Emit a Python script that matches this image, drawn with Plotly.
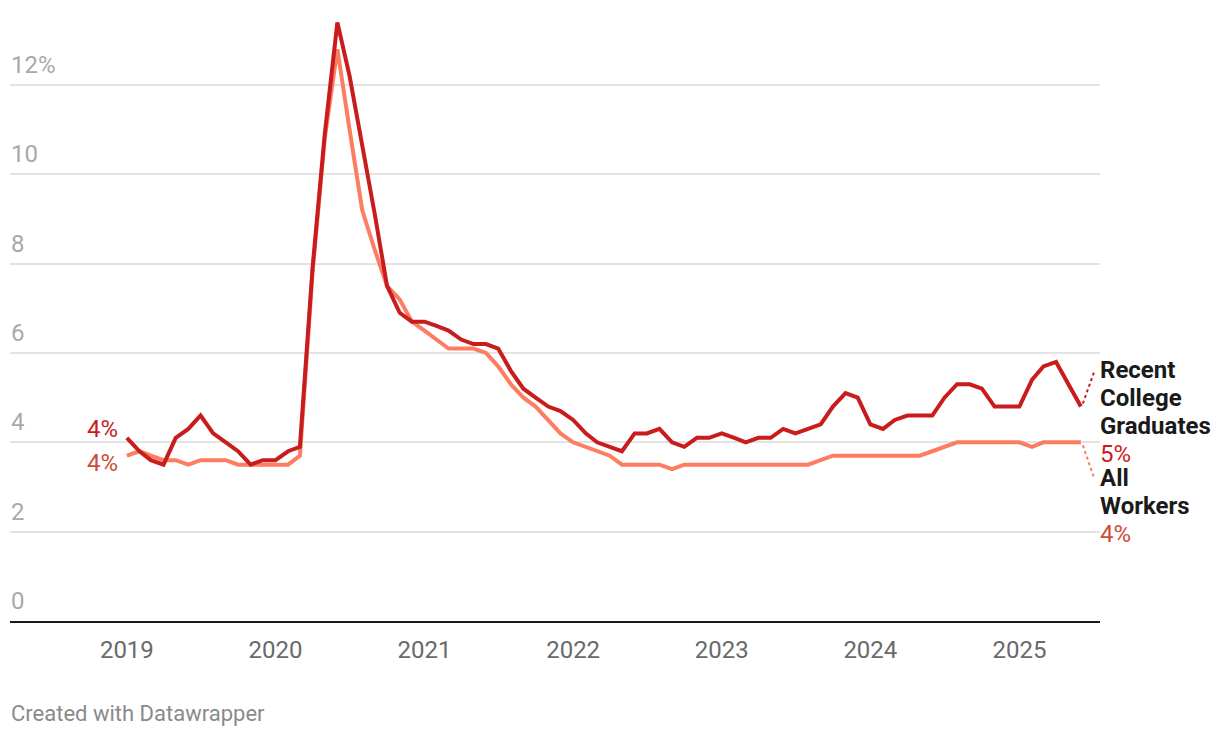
import plotly.graph_objects as go
import pandas as pd

# ---- data (monthly, Jan 2019 - Jun 2025) ----
months = pd.date_range("2019-01-01", "2025-06-01", freq="MS")

recent_grads = [
    4.1, 3.8, 3.6, 3.5, 4.1, 4.3, 4.6, 4.2, 4.0, 3.8, 3.5, 3.6,   # 2019
    3.6, 3.8, 3.9, 7.9, 10.9, 13.4, 12.2, 10.7, 9.1, 7.5, 6.9, 6.7,  # 2020
    6.7, 6.6, 6.5, 6.3, 6.2, 6.2, 6.1, 5.6, 5.2, 5.0, 4.8, 4.7,   # 2021
    4.5, 4.2, 4.0, 3.9, 3.8, 4.2, 4.2, 4.3, 4.0, 3.9, 4.1, 4.1,   # 2022
    4.2, 4.1, 4.0, 4.1, 4.1, 4.3, 4.2, 4.3, 4.4, 4.8, 5.1, 5.0,   # 2023
    4.4, 4.3, 4.5, 4.6, 4.6, 4.6, 5.0, 5.3, 5.3, 5.2, 4.8, 4.8,   # 2024
    4.8, 5.4, 5.7, 5.8, 5.3, 4.8,                                 # 2025
]
all_workers = [
    3.7, 3.8, 3.7, 3.6, 3.6, 3.5, 3.6, 3.6, 3.6, 3.5, 3.5, 3.5,   # 2019
    3.5, 3.5, 3.7, 7.8, 10.8, 12.8, 11.0, 9.2, 8.3, 7.5, 7.2, 6.7,  # 2020
    6.5, 6.3, 6.1, 6.1, 6.1, 6.0, 5.7, 5.3, 5.0, 4.8, 4.5, 4.2,   # 2021
    4.0, 3.9, 3.8, 3.7, 3.5, 3.5, 3.5, 3.5, 3.4, 3.5, 3.5, 3.5,   # 2022
    3.5, 3.5, 3.5, 3.5, 3.5, 3.5, 3.5, 3.5, 3.6, 3.7, 3.7, 3.7,   # 2023
    3.7, 3.7, 3.7, 3.7, 3.7, 3.8, 3.9, 4.0, 4.0, 4.0, 4.0, 4.0,   # 2024
    4.0, 3.9, 4.0, 4.0, 4.0, 4.0,                                 # 2025
]
series_names = ["Recent College Graduates", "All Workers"]
recent_label_lines = ["Recent", "College", "Graduates"]
all_label_lines = ["All", "Workers"]
y_ticks = [0, 2, 4, 6, 8, 10, 12]
y_tick_labels = ["0", "2", "4", "6", "8", "10", "12%"]
x_tick_years = ["2019", "2020", "2021", "2022", "2023", "2024", "2025"]

RED = "#c91d1d"
SALMON = "#fd7d63"
RED_TXT = "#c91d1d"
SALMON_TXT = "#cc4e3a"
FONT = "Roboto"
FS = 24
LINE_H = 28

fig = go.Figure()
fig.add_trace(go.Scatter(x=months, y=all_workers, mode="lines", name=series_names[1],
                         line=dict(color=SALMON, width=4), hoverinfo="skip"))
fig.add_trace(go.Scatter(x=months, y=recent_grads, mode="lines", name=series_names[0],
                         line=dict(color=RED, width=4), hoverinfo="skip"))

annotations = []
# y-axis labels above gridlines
for v, t in zip(y_ticks, y_tick_labels):
    annotations.append(dict(x=0, xref="paper", y=v, yref="y", text=t, showarrow=False,
                            xanchor="left", yanchor="bottom", xshift=-1, yshift=4,
                            font=dict(family=FONT, size=FS, color="#a9a9a9")))

# start labels
annotations.append(dict(x=months[0], y=recent_grads[0], text=f"{round(recent_grads[0])}%",
                        showarrow=False, xanchor="right", yanchor="middle", xshift=-8, yshift=9,
                        borderpad=0, font=dict(family=FONT, size=FS, color=RED_TXT)))
annotations.append(dict(x=months[0], y=all_workers[0], text=f"{round(all_workers[0])}%",
                        showarrow=False, xanchor="right", yanchor="middle", xshift=-8, yshift=-7,
                        borderpad=0, font=dict(family=FONT, size=FS, color=SALMON_TXT)))


def end_block(lines, value, color, first_shift):
    texts = [f"<b>{ln}</b>" for ln in lines] + [f"{round(value)}%"]
    colors = ["#1a1a1a"] * len(lines) + [color]
    for k, (t, c) in enumerate(zip(texts, colors)):
        annotations.append(dict(x=1, xref="paper", y=value, yref="y", text=t,
                                showarrow=False, xanchor="left", yanchor="middle", align="left",
                                xshift=-1, yshift=first_shift - k * LINE_H, borderpad=0,
                                font=dict(family=FONT, size=FS, color=c)))


end_block(recent_label_lines, recent_grads[-1], RED_TXT, 37)
end_block(all_label_lines, all_workers[-1], SALMON_TXT, -36)

# footer
annotations.append(dict(x=0, xref="paper", y=-0.1522, yref="paper", text="Created with Datawrapper",
                        showarrow=False, xanchor="left", yanchor="middle", xshift=-1,
                        font=dict(family=FONT, size=22, color="#8a8a8a")))

shapes = [
    dict(type="line", xref="x", yref="y", xsizemode="pixel", ysizemode="pixel",
         xanchor=months[-1], yanchor=recent_grads[-1], x0=2, y0=3, x1=13, y1=34,
         line=dict(color=RED, width=2, dash="dot")),
    dict(type="line", xref="x", yref="y", xsizemode="pixel", ysizemode="pixel",
         xanchor=months[-1], yanchor=all_workers[-1], x0=2, y0=-3, x1=13, y1=-35,
         line=dict(color=SALMON, width=2, dash="dot")),
]

# page body adds an 8px margin; margins compensate so the plot lands at x 10..1100, y 10..621
fig.update_layout(
    width=1220, height=738,
    margin=dict(l=2, r=128, t=2, b=125),
    paper_bgcolor="white", plot_bgcolor="white",
    showlegend=False,
    font=dict(family=FONT),
    annotations=annotations,
    shapes=shapes,
    xaxis=dict(
        type="date",
        range=["2018-03-20", "2025-07-18"],
        tickvals=[f"{y}-01-01" for y in x_tick_years],
        ticktext=x_tick_years,
        showgrid=False, zeroline=False,
        showline=True, linecolor="#1a1a1a", linewidth=2,
        ticks="", ticklabelstandoff=6,
        tickfont=dict(family=FONT, size=FS, color="#6a6a6a"),
        fixedrange=True,
    ),
    yaxis=dict(
        range=[0, 13.678],
        tickvals=y_ticks,
        showticklabels=False,
        showgrid=True, gridcolor="#e3e3e3", gridwidth=1.5,
        zeroline=False, showline=False, ticks="",
        fixedrange=True,
    ),
)

fig.write_html("out.html")
